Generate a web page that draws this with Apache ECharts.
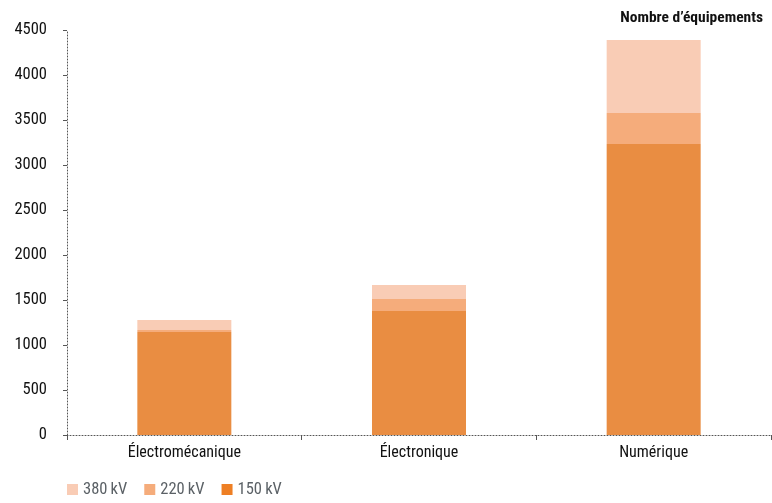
<!DOCTYPE html>
<html><head><meta charset="utf-8">
<script src="https://cdn.jsdelivr.net/npm/echarts@6/dist/echarts.min.js"></script>
<style>html,body{margin:0;padding:0;background:#fff}#c{width:772px;height:503px}</style>
</head><body><div id="c"></div>
<script>
const categories = ['Électromécanique', 'Électronique', 'Numérique'];
const kv150 = [1145, 1378, 3233];
const kv220 = [22, 133, 345];
const kv380 = [111, 156, 811];
const yTicks = [0, 500, 1000, 1500, 2000, 2500, 3000, 3500, 4000, 4500];
const seriesNames = ['380\u2009kV', '220\u2009kV', '150\u2009kV'];

const FONT = '"Liberation Sans Narrow", "Roboto Condensed", "Liberation Sans", sans-serif';
const chart = echarts.init(document.getElementById('c'));
const dotted = {color: '#555', type: [1, 2], width: 1};
chart.setOption({
  animation: false,
  textStyle: {fontFamily: FONT},
  title: {text: 'Nombre d’équipements', right: 4, top: 5,
    textStyle: {fontFamily: FONT, fontSize: 15.5, fontWeight: 'bold', color: '#111'}},
  grid: {left: 67, right: 1, top: 30, bottom: 68},
  legend: {
    left: 62, bottom: 0, itemWidth: 11, itemHeight: 11, itemGap: 17,
    textStyle: {fontFamily: FONT, fontSize: 16.5, color: '#5b6166'},
    data: [
      {name: seriesNames[0], icon: 'rect'},
      {name: seriesNames[1], icon: 'rect'},
      {name: seriesNames[2], icon: 'rect', itemStyle: {color: '#EE7F24'}}
    ]
  },
  xAxis: {
    type: 'category', data: categories,
    axisLine: {lineStyle: dotted},
    axisTick: {show: true, length: 5, lineStyle: {color: '#555'}},
    axisLabel: {fontFamily: FONT, fontSize: 16, color: '#111', margin: 10}
  },
  yAxis: {
    type: 'value', min: yTicks[0], max: yTicks[yTicks.length - 1], interval: 500,
    axisLine: {show: true, lineStyle: dotted},
    axisTick: {show: true, length: 4, lineStyle: {color: '#555'}},
    splitLine: {show: false},
    axisLabel: {fontFamily: FONT, fontSize: 16.5, color: '#111', margin: 20,
      formatter: v => String(v)}
  },
  series: [
    {name: seriesNames[2], type: 'bar', stack: 's', data: kv150, barWidth: 94, itemStyle: {color: '#E98D42'}},
    {name: seriesNames[1], type: 'bar', stack: 's', data: kv220, itemStyle: {color: '#F5AC7B'}},
    {name: seriesNames[0], type: 'bar', stack: 's', data: kv380, itemStyle: {color: '#F9CCB5'}}
  ]
});
</script></body></html>
